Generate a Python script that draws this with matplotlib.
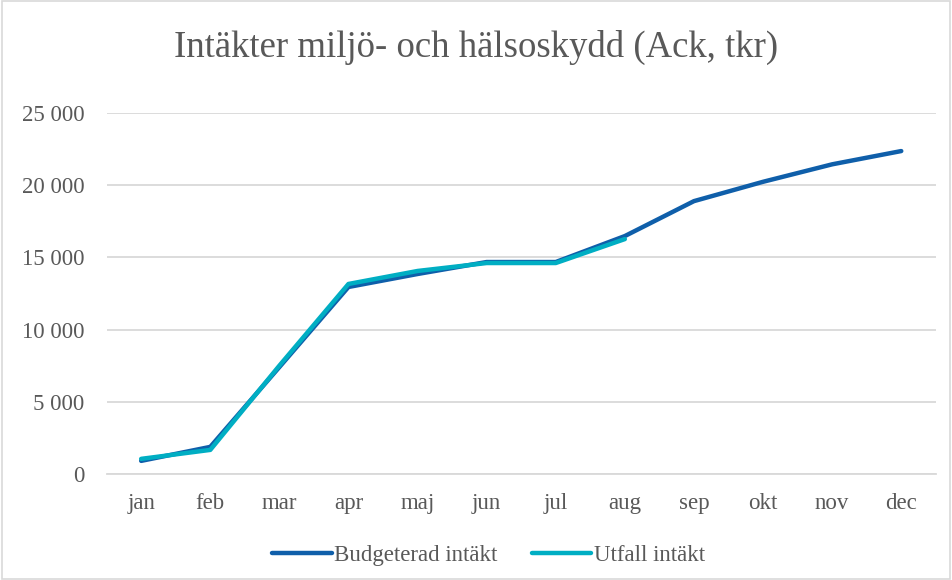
import matplotlib
matplotlib.use("Agg")
import matplotlib.pyplot as plt
from matplotlib.ticker import FuncFormatter

months = ['jan', 'feb', 'mar', 'apr', 'maj', 'jun', 'jul', 'aug', 'sep', 'okt', 'nov', 'dec']
budget = [900, 1870, 7400, 12950, 13850, 14680, 14680, 16480, 18900, 20240, 21450, 22370]
utfall = [1040, 1660, 7500, 13160, 14060, 14610, 14610, 16270]

plt.rcParams['font.family'] = ['Liberation Serif', 'DejaVu Serif']
txt = '#595959'

fig = plt.figure(figsize=(9.52, 5.8), dpi=100)
ax = fig.add_axes([0.112, 0.183, 0.871, 0.622])

x = list(range(len(months)))
ax.plot(x, budget, color='#0F5FAA', lw=3.2, solid_capstyle='round', label='Budgeterad intäkt')
ax.plot(x[:len(utfall)], utfall, color='#00AEC3', lw=3.2, solid_capstyle='round', label='Utfall intäkt')

ax.set_xlim(-0.5, len(months) - 0.5)
ax.set_ylim(0, 25000)
ax.set_yticks(range(0, 25001, 5000))
ax.yaxis.set_major_formatter(FuncFormatter(lambda v, p: f'{int(v):,}'.replace(',', ' ')))
ax.set_xticks(x)
ax.set_xticklabels(months)
ax.grid(axis='y', color='#D9D9D9', lw=1.3)
ax.set_axisbelow(True)
for s in ['top', 'right', 'left']:
    ax.spines[s].set_visible(False)
ax.spines['bottom'].set_color('#D9D9D9')
ax.spines['bottom'].set_linewidth(1.3)
ax.tick_params(length=0, labelsize=16.5, colors=txt, pad=14)
ax.tick_params(axis='y', pad=16)

fig.text(0.5, 0.918, 'Intäkter miljö- och hälsoskydd (Ack, tkr)', ha='center', va='center',
         fontsize=26.5, color=txt)
fig.legend(loc='center', bbox_to_anchor=(0.513, 0.043), ncol=2, frameon=False,
           fontsize=16.5, labelcolor=txt, handlelength=2.6, handletextpad=0.1, columnspacing=1.5)

fig.patches.append(plt.Rectangle((0.002, 0.002), 0.996, 0.996, transform=fig.transFigure,
                                 fill=False, edgecolor='#D9D9D9', lw=1.2))

fig.savefig('out.png', dpi=100)
